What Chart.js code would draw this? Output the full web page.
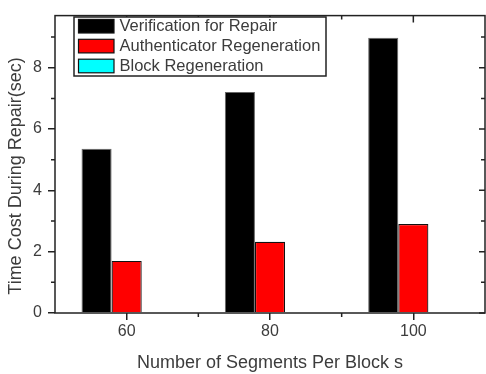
<!DOCTYPE html>
<html>
<head>
<meta charset="utf-8">
<script src="https://cdn.jsdelivr.net/npm/chart.js@4/dist/chart.umd.min.js"></script>
<style>
  html, body { margin: 0; padding: 0; background: #fff; }
  #wrap { width: 486px; height: 374px; }
</style>
</head>
<body>
<div id="wrap"><canvas id="c" width="486" height="374"></canvas></div>
<script>
const categories = ['60', '80', '100'];
const verification = [5.36, 7.21, 8.98];
const authenticator = [1.70, 2.32, 2.90];
const blockRegen = [0, 0, 0];
const seriesNames = ['Verification for Repair', 'Authenticator Regeneration', 'Block Regeneration'];
const yMajorTicks = [0, 2, 4, 6, 8];
const yMinorTicks = [1, 3, 5, 7, 9];
const yMax = 9.7;
const xTitle = 'Number of Segments Per Block s';
const yTitle = 'Time Cost During Repair(sec)';

const AXIS = '#222';
const TEXT = '#3c3c3c';
const FONT = 'Liberation Sans, Arial, sans-serif';

const framePlugin = {
  id: 'frame',
  afterDraw(chart) {
    const ctx = chart.ctx;
    const a = chart.chartArea;
    const xs = chart.scales.x, ys = chart.scales.y;
    ctx.save();
    ctx.strokeStyle = AXIS;
    ctx.lineWidth = 1.5;
    ctx.strokeRect(a.left, a.top, a.right - a.left, a.bottom - a.top);
    ctx.beginPath();
    // y major ticks mirrored on right (inward)
    yMajorTicks.forEach(v => {
      const y = ys.getPixelForValue(v);
      ctx.moveTo(a.right, y); ctx.lineTo(a.right - 6, y);
    });
    // y minor ticks: left outward, right inward
    yMinorTicks.forEach(v => {
      const y = ys.getPixelForValue(v);
      ctx.moveTo(a.left, y); ctx.lineTo(a.left - 4, y);
      ctx.moveTo(a.right, y); ctx.lineTo(a.right - 4, y);
    });
    // x major ticks mirrored on top (inward)
    categories.forEach((c, i) => {
      const x = xs.getPixelForValue(i);
      ctx.moveTo(x, a.top); ctx.lineTo(x, a.top + 7);
    });
    // x minor ticks between categories
    for (let i = 0; i < categories.length - 1; i++) {
      const x = (xs.getPixelForValue(i) + xs.getPixelForValue(i + 1)) / 2;
      ctx.moveTo(x, a.bottom); ctx.lineTo(x, a.bottom + 4);
      ctx.moveTo(x, a.top); ctx.lineTo(x, a.top + 4);
    }
    ctx.stroke();

    // y title
    ctx.fillStyle = TEXT;
    ctx.font = '18px ' + FONT;
    ctx.textAlign = 'center';
    ctx.textBaseline = 'middle';
    ctx.translate(16, 176);
    ctx.rotate(-Math.PI / 2);
    ctx.fillText(yTitle, 0, 0);
    ctx.restore();

    // legend
    ctx.save();
    const lx = 74, ly = 17, lw = 252, lh = 59;
    ctx.fillStyle = '#fff';
    ctx.fillRect(lx, ly, lw, lh);
    ctx.strokeStyle = AXIS;
    ctx.lineWidth = 1.5;
    ctx.strokeRect(lx, ly, lw, lh);
    ctx.font = '16.5px ' + FONT;
    ctx.textAlign = 'left';
    ctx.textBaseline = 'middle';
    chart.data.datasets.forEach((ds, i) => {
      const cy = 26.2 + i * 19.9;
      ctx.fillStyle = ds.backgroundColor;
      ctx.fillRect(78.5, cy - 6.8, 35.5, 13.6);
      ctx.strokeStyle = '#111';
      ctx.lineWidth = 1.2;
      ctx.strokeRect(78.5, cy - 6.8, 35.5, 13.6);
      ctx.fillStyle = TEXT;
      ctx.fillText(ds.label, 119.5, cy + 0.5);
    });
    ctx.restore();
  }
};

new Chart(document.getElementById('c'), {
  type: 'bar',
  data: {
    labels: categories,
    datasets: [
      { label: seriesNames[0], data: verification, backgroundColor: '#000000', borderColor: '#666', borderWidth: 1 },
      { label: seriesNames[1], data: authenticator, backgroundColor: '#ff0000', borderColor: '#111', borderWidth: 1.2 },
      { label: seriesNames[2], data: blockRegen, backgroundColor: '#00ffff', borderColor: '#111', borderWidth: 0 }
    ]
  },
  options: {
    responsive: false,
    animation: false,
    devicePixelRatio: 1,
    layout: { padding: { top: 8, right: 1, left: 0, bottom: 0 } },
    plugins: { legend: { display: false }, tooltip: { enabled: false } },
    datasets: { bar: { barPercentage: 1.0, categoryPercentage: 0.63 } },
    scales: {
      x: {
        type: 'category',
        offset: true,
        grid: { display: true, drawOnChartArea: false, drawTicks: true, tickLength: 7, offset: false, color: AXIS, lineWidth: 1.5 },
        border: { display: false },
        ticks: { color: TEXT, font: { family: FONT, size: 16 }, padding: 2, maxRotation: 0 },
        title: { display: true, text: xTitle, color: TEXT, font: { family: FONT, size: 18 }, padding: { top: 0, bottom: 0 } },
        afterFit(scale) { scale.height = 61; }
      },
      y: {
        type: 'linear',
        min: 0,
        max: yMax,
        grid: { display: true, drawOnChartArea: false, drawTicks: true, tickLength: 7, color: AXIS, lineWidth: 1.5 },
        border: { display: false },
        ticks: { color: TEXT, font: { family: FONT, size: 16 }, padding: 6 },
        afterBuildTicks(scale) { scale.ticks = yMajorTicks.map(v => ({ value: v })); },
        afterFit(scale) { scale.width = 55; }
      }
    }
  },
  plugins: [framePlugin]
});
</script>
</body>
</html>
